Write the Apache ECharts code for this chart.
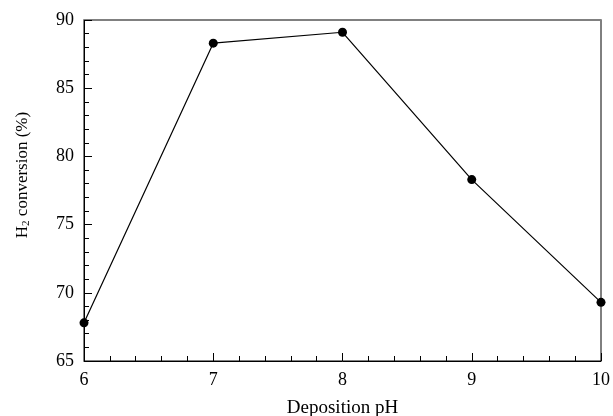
<!DOCTYPE html>
<html>
<head>
<meta charset="utf-8">
<script src="https://cdn.jsdelivr.net/npm/echarts@6/dist/echarts.min.js"></script>
<style>
  html, body { margin: 0; padding: 0; background: #fff; }
  #chart { width: 613px; height: 416px; }
</style>
</head>
<body>
<div id="chart"></div>
<script>
// Deposition pH against H2 conversion
const phValues = [6, 7, 8, 9, 10];
const conversion = [67.8, 88.3, 89.1, 78.3, 69.3];
const xTitle = 'Deposition pH';
const yTitle = 'H{sub|2} conversion (%)';

const FONT = '"Liberation Serif", "Times New Roman", serif';

const chart = echarts.init(document.getElementById('chart'), null, { renderer: 'canvas' });

const points = phValues.map((x, i) => [x, conversion[i]]);

chart.setOption({
  animation: false,
  backgroundColor: '#fff',
  grid: {
    left: 84, right: 12, top: 20, bottom: 55,
    containLabel: false,
    outerBoundsMode: 'none',
    show: true, borderColor: '#000', borderWidth: 1, backgroundColor: 'transparent'
  },
  graphic: [{
    type: 'text',
    x: 23, y: 175,
    rotation: Math.PI / 2,
    style: {
      text: yTitle,
      fontFamily: FONT, fontSize: 17, fill: '#000',
      align: 'center', verticalAlign: 'middle',
      rich: { sub: { fontFamily: FONT, fontSize: 11, fill: '#000', padding: [7, 0, 0, 0] } }
    }
  }],
  xAxis: [{
    type: 'value',
    min: 6, max: 10, interval: 1,
    name: xTitle,
    nameLocation: 'middle',
    nameGap: 38,
    nameTextStyle: { fontFamily: FONT, fontSize: 19, color: '#000' },
    axisLine: { lineStyle: { color: '#000', width: 1 } },
    axisTick: { inside: true, length: 8, lineStyle: { color: '#000' } },
    minorTick: { show: true, splitNumber: 5, length: 5, lineStyle: { color: '#000' } },
    axisLabel: { fontFamily: FONT, fontSize: 18, color: '#000', margin: 10 },
    splitLine: { show: false }
  }, {
    type: 'value',
    position: 'top',
    min: 6, max: 10,
    axisLine: { lineStyle: { color: '#808080', width: 2 } },
    axisTick: { show: false },
    axisLabel: { show: false },
    splitLine: { show: false }
  }],
  yAxis: {
    type: 'value',
    min: 65, max: 90, interval: 5,
    axisLine: { show: true, lineStyle: { color: '#000', width: 1 } },
    axisTick: { show: true, inside: true, length: 8, lineStyle: { color: '#000' } },
    minorTick: { show: true, splitNumber: 5, length: 5, lineStyle: { color: '#000' } },
    axisLabel: { fontFamily: FONT, fontSize: 18, color: '#000', margin: 10 },
    splitLine: { show: false }
  },
  series: [{
    type: 'line',
    data: points,
    symbol: 'circle',
    symbolSize: 9,
    itemStyle: { color: '#000' },
    lineStyle: { color: '#000', width: 1.2 },
    clip: false
  }]
});
</script>
</body>
</html>
